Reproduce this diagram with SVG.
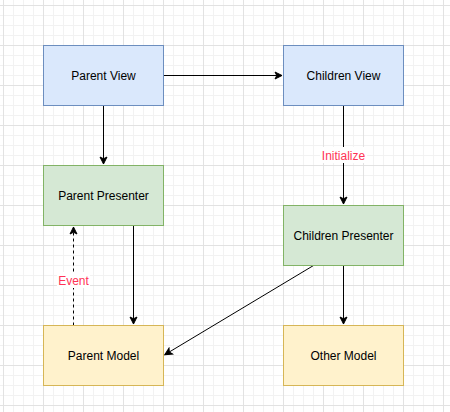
<svg xmlns="http://www.w3.org/2000/svg" width="450" height="412" viewBox="0 0 450 412">
  <style>
    .node text { font-family: "Liberation Sans", Arial, sans-serif; font-size: 12px; fill: #000; text-anchor: middle; }
    .blue { fill: #dae8fc; stroke: #6c8ebf; stroke-width: 1; }
    .green { fill: #d5e8d4; stroke: #82b366; stroke-width: 1; }
    .yellow { fill: #fff2cc; stroke: #d6b656; stroke-width: 1; }
    .edge { fill: none; stroke: #000; stroke-width: 1; }
    .dashed { stroke-dasharray: 3 3; }
    .elabel { font-family: "Liberation Sans", Arial, sans-serif; font-size: 12px; fill: #ff3355; text-anchor: middle; }
  </style>
  <defs>
    <pattern id="grid" x="3" y="5" width="40" height="40" patternUnits="userSpaceOnUse">
      <path d="M10.5 0V40M20.5 0V40M30.5 0V40M0 10.5H40M0 20.5H40M0 30.5H40" fill="none" stroke="#f2f2f2" stroke-width="1"/>
      <path d="M0.5 0V40M0 0.5H40" fill="none" stroke="#e2e2e2" stroke-width="1"/>
    </pattern>
    <marker id="arrow" markerUnits="userSpaceOnUse" markerWidth="10" markerHeight="10" viewBox="-8 -5 10 10" refX="0" refY="0" orient="auto">
      <path d="M0,0 L-7,-3.5 L-5.25,0 L-7,3.5 Z" fill="#000" stroke="#000" stroke-width="1" stroke-linejoin="miter"/>
    </marker>
  </defs>
  <rect x="0" y="0" width="450" height="412" fill="#ffffff"/>
  <rect x="0" y="0" width="450" height="412" fill="url(#grid)"/>

  <g id="connectors">
    <path class="edge" d="M163.5 75.5 H282" marker-end="url(#arrow)"/>
    <path class="edge" d="M103.5 105.5 V164" marker-end="url(#arrow)"/>
    <path class="edge" d="M343.5 105.5 V204" marker-end="url(#arrow)"/>
    <path class="edge" d="M133.5 225.5 V324" marker-end="url(#arrow)"/>
    <path class="edge dashed" d="M73.5 325.5 V227" marker-end="url(#arrow)"/>
    <path class="edge" d="M313.5 265.5 L164.8 354.7" marker-end="url(#arrow)"/>
    <path class="edge" d="M343.5 265.5 V324" marker-end="url(#arrow)"/>
    <rect x="320" y="147" width="47" height="16" fill="#ffffff"/>
    <text class="elabel" x="343.5" y="160">Initialize</text>
    <rect x="57" y="272" width="33" height="16" fill="#ffffff"/>
    <text class="elabel" x="73.5" y="285">Event</text>
  </g>

  <g id="parent-view" class="node">
    <rect class="blue" x="43.5" y="45.5" width="120" height="60"/>
    <text x="103.5" y="79.5">Parent View</text>
  </g>
  <g id="children-view" class="node">
    <rect class="blue" x="283.5" y="45.5" width="120" height="60"/>
    <text x="343.5" y="79.5">Children View</text>
  </g>
  <g id="parent-presenter" class="node">
    <rect class="green" x="43.5" y="165.5" width="120" height="60"/>
    <text x="103.5" y="199.5">Parent Presenter</text>
  </g>
  <g id="children-presenter" class="node">
    <rect class="green" x="283.5" y="205.5" width="120" height="60"/>
    <text x="343.5" y="239.5">Children Presenter</text>
  </g>
  <g id="parent-model" class="node">
    <rect class="yellow" x="43.5" y="325.5" width="120" height="60"/>
    <text x="103.5" y="359.5">Parent Model</text>
  </g>
  <g id="other-model" class="node">
    <rect class="yellow" x="283.5" y="325.5" width="120" height="60"/>
    <text x="343.5" y="359.5">Other Model</text>
  </g>
</svg>
